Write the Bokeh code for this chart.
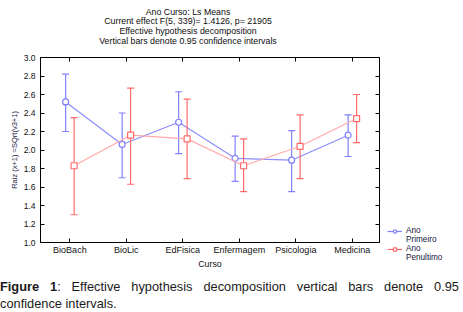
from bokeh.plotting import figure
from bokeh.models import (FixedTicker, LinearAxis, Legend, LegendItem, Div, Spacer,
                          Range1d, NumeralTickFormatter)
from bokeh.layouts import column, row
from bokeh.embed import file_html
from bokeh.resources import INLINE

# ---- data ----
categories = ["BioBach", "BioLic", "EdFisica", "Enfermagem", "Psicologia", "Medicina"]
primeiro_mean = [2.52, 2.06, 2.30, 1.91, 1.89, 2.16]
primeiro_lower = [2.20, 1.70, 1.96, 1.66, 1.55, 1.93]
primeiro_upper = [2.82, 2.40, 2.63, 2.15, 2.21, 2.38]
penultimo_mean = [1.83, 2.16, 2.12, 1.83, 2.04, 2.34]
penultimo_lower = [1.30, 1.63, 1.69, 1.55, 1.69, 2.08]
penultimo_upper = [2.35, 2.67, 2.55, 2.12, 2.38, 2.60]
y_ticks = [1.0, 1.2, 1.4, 1.6, 1.8, 2.0, 2.2, 2.4, 2.6, 2.8, 3.0]
title_lines = ["Ano Curso: Ls Means",
               "Current effect F(5, 339)= 1.4126, p= 21905",
               "Effective hypothesis decomposition",
               "Vertical bars denote 0.95 confidence intervals"]
legend_labels = [("Ano", "Primeiro"), ("Ano", "Penultimo")]
caption_bold = "Figure 1"
caption_rest = ": Effective hypothesis decomposition vertical bars denote 0.95 confidence intervals."

FONT = "Liberation Sans"
BLUE = "#8080ff"
BLUE_LINE = "#8c8cff"
RED = "#ff6b6b"
RED_LINE = "#ffaaaa"
NAN = float("nan")

ticks_x = list(range(len(categories)))
offset = 0.075
cap = 0.062

# ---------------- title ----------------
title_div = Div(text=(
    '<div style="width:376px; padding-top:7.6px; font-family:\'Liberation Sans\', Arial, sans-serif; '
    'font-size:8.8px; line-height:9.7px; text-align:center; color:#0d0d0d;">'
    + "<br>".join(title_lines) + '</div>'),
    width=387, height=47, margin=(0, 0, 0, 0))

# ---------------- main plot ----------------
p = figure(frame_width=339, frame_height=185, title_location=None,
           min_border_left=40, min_border_right=8, min_border_top=10, min_border_bottom=26,
           x_range=Range1d(-0.52, 5.48), y_range=Range1d(1.0, 3.0),
           output_backend="svg", toolbar_location=None,
           x_axis_label="Curso", y_axis_label="Raiz (x+1) =SQrt(v3+1)")
p.outline_line_color = "black"
p.xgrid.visible = False
p.ygrid.visible = False
p.background_fill_color = "white"
p.border_fill_color = "white"

xa = p.xaxis[0]
xa.ticker = FixedTicker(ticks=ticks_x)
xa.major_label_overrides = {i: c for i, c in enumerate(categories)}
ya = p.yaxis[0]
ya.ticker = FixedTicker(ticks=y_ticks)
ya.formatter = NumeralTickFormatter(format="0.0")

top = LinearAxis(ticker=FixedTicker(ticks=ticks_x),
                 major_label_overrides={i: "" for i in ticks_x})
right = LinearAxis(ticker=FixedTicker(ticks=y_ticks),
                   major_label_overrides={t: "" for t in y_ticks})
p.add_layout(top, "above")
p.add_layout(right, "right")

for ax in [xa, ya, top, right]:
    ax.major_tick_in = 4
    ax.major_tick_out = 0
    ax.major_tick_line_width = 1
    ax.minor_tick_line_color = None
    ax.axis_line_color = "black"
    ax.major_tick_line_color = "black"
    ax.major_label_text_font = FONT
    ax.major_label_text_font_size = "8.5px"
    ax.major_label_text_color = "#111111"
    ax.axis_label_text_font = FONT
    ax.axis_label_text_font_size = "8.8px"
    ax.axis_label_text_font_style = "normal"
    ax.axis_label_text_color = "#111111"
for ax in [top, right]:
    ax.major_label_text_font_size = "1px"
    ax.major_label_standoff = 0

xa.major_label_text_font_size = "9px"
xa.major_label_standoff = 2
xa.axis_label_standoff = 1
ya.major_label_standoff = 5
ya.axis_label_standoff = 2
ya.axis_label_text_font_size = "7.5px"
ya.axis_label_text_color = "#262648"


def draw(fig, means, lows, ups, shift, color, line_color, marker):
    xs = [i + shift for i in ticks_x]
    fig.line(xs, means, line_color=line_color, line_width=1.2)
    fig.segment(xs, lows, xs, ups, line_color=color, line_width=1.2)
    fig.segment([x - cap for x in xs], ups, [x + cap for x in xs], ups, line_color=color, line_width=1.2)
    fig.segment([x - cap for x in xs], lows, [x + cap for x in xs], lows, line_color=color, line_width=1.2)
    fig.scatter(xs, means, marker=marker, size=6, line_color=color, fill_color="white", line_width=1.2)


draw(p, primeiro_mean, primeiro_lower, primeiro_upper, -offset, BLUE, BLUE_LINE, "circle")
draw(p, penultimo_mean, penultimo_lower, penultimo_upper, offset, RED, RED_LINE, "square")

# ---------------- legend (separate small panel to the right) ----------------
lf = figure(width=76, height=40, min_border=0, x_axis_location=None, y_axis_location=None,
            title_location=None, x_range=Range1d(0, 1), y_range=Range1d(0, 1),
            output_backend="svg", toolbar_location=None)
lf.outline_line_color = None
lf.xgrid.visible = False
lf.ygrid.visible = False
lb_line = lf.line([NAN], [NAN], line_color=BLUE, line_width=1.2)
lb_pt = lf.scatter([NAN], [NAN], marker="circle", size=6, line_color=BLUE, fill_color="white", line_width=1.2)
lr_line = lf.line([NAN], [NAN], line_color=RED, line_width=1.2)
lr_pt = lf.scatter([NAN], [NAN], marker="square", size=6, line_color=RED, fill_color="white", line_width=1.2)
blank = lf.scatter([NAN], [NAN], size=0, fill_alpha=0, line_alpha=0)

legend = Legend(items=[
    LegendItem(label=legend_labels[0][0], renderers=[lb_line, lb_pt]),
    LegendItem(label=legend_labels[0][1], renderers=[blank]),
    LegendItem(label=legend_labels[1][0], renderers=[lr_line, lr_pt]),
    LegendItem(label=legend_labels[1][1], renderers=[blank]),
], location="top_left")
legend.glyph_width = 15
legend.glyph_height = 8
legend.label_height = 8
legend.label_standoff = 4
legend.padding = 0
legend.margin = 0
legend.spacing = 0
legend.border_line_color = None
legend.background_fill_alpha = 0
legend.label_text_font = FONT
legend.label_text_font_size = "8.2px"
legend.label_text_color = "#141440"
lf.add_layout(legend, "center")

# ---------------- caption ----------------
caption = Div(text=(
    '<div style="width:459px; padding-top:8px; font-family:\'Liberation Sans\', Arial, sans-serif; '
    'font-size:12.8px; line-height:16.5px; text-align:justify; color:#1a1a1a;">'
    '<b>' + caption_bold + '</b>' + caption_rest + '</div>'),
    width=459, height=44, margin=(0, 0, 0, 0))

main = column(title_div, p, spacing=0)
side = column(Spacer(width=76, height=226, margin=(0, 0, 0, 0)), lf, spacing=0)
layout = column(row(main, side, spacing=0), caption, spacing=0)
open("out.html", "w").write(file_html(layout, INLINE))
